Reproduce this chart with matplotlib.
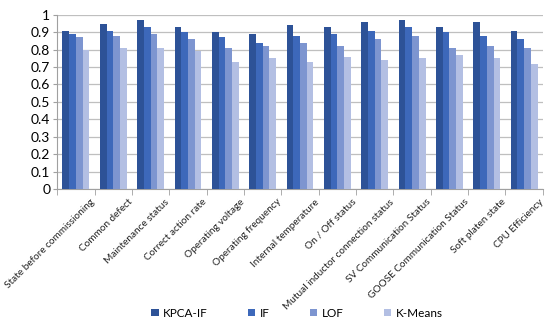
import numpy as np
import matplotlib.pyplot as plt

plt.rcParams['font.family'] = ['Lato', 'DejaVu Sans']

categories = ['State before commissioning', 'Common defect', 'Maintenance status',
              'Correct action rate', 'Operating voltage', 'Operating frequency',
              'Internal temperature', 'On / Off status',
              'Mutual inductor connection status', 'SV Communication Status',
              'GOOSE Communication Status', 'Soft platen state', 'CPU Efficiency']
kpca_if = [0.91, 0.95, 0.97, 0.93, 0.90, 0.89, 0.94, 0.93, 0.96, 0.97, 0.93, 0.96, 0.91]
iforest = [0.89, 0.91, 0.93, 0.90, 0.87, 0.84, 0.88, 0.89, 0.91, 0.93, 0.90, 0.88, 0.86]
lof = [0.87, 0.88, 0.89, 0.86, 0.81, 0.82, 0.84, 0.82, 0.86, 0.88, 0.81, 0.82, 0.81]
kmeans = [0.80, 0.81, 0.81, 0.79, 0.73, 0.75, 0.73, 0.76, 0.74, 0.75, 0.77, 0.75, 0.72]

series = [('KPCA-IF', kpca_if, '#2D5297'), ('IF', iforest, '#3D68BA'),
          ('LOF', lof, '#7D95D0'), ('K-Means', kmeans, '#B3BFE3')]

fig = plt.figure(figsize=(5.5, 3.23), dpi=100)
ax = fig.add_axes([0.104, 0.415, 0.883, 0.539])

x = np.arange(len(categories))
w = 0.18
for i, (name, vals, col) in enumerate(series):
    ax.bar(x + (i - 1.5) * w, vals, w, color=col, label=name, zorder=3)

ax.set_xlim(-0.5, len(categories) - 0.5)
ax.set_ylim(0, 1)
ax.set_yticks(np.arange(0, 1.01, 0.1))
ax.set_yticklabels(['0', '0.1', '0.2', '0.3', '0.4', '0.5', '0.6', '0.7', '0.8', '0.9', '1'])
ax.yaxis.grid(True, color='#BFBFBF', linewidth=0.9, zorder=0)

# labels sit a little right of the group centre, like Excel does
ax.set_xticks(x + 0.38)
ax.set_xticklabels(categories, rotation=45, ha='right', va='top',
                   rotation_mode='anchor', fontsize=7.2, color='#222222',
                   family=['Liberation Sans Narrow', 'Lato'])
ax.tick_params(axis='x', length=0, pad=6)
ax.set_xticks(np.arange(-0.5, len(categories)), minor=True)
ax.tick_params(axis='x', which='minor', length=4, color='#A0A0A0')
ax.tick_params(axis='y', labelsize=10, length=3, color='#A0A0A0', pad=2)

for s in ['top', 'right']:
    ax.spines[s].set_visible(False)
ax.spines['left'].set_color('#A0A0A0')
ax.spines['bottom'].set_color('#A0A0A0')

fig.legend(loc='center', bbox_to_anchor=(0.54, 0.03), ncol=4, frameon=False,
           fontsize=8.5, handlelength=0.6, handleheight=0.6, handletextpad=0.4,
           columnspacing=3.4)

fig.savefig('out.png', dpi=100)
